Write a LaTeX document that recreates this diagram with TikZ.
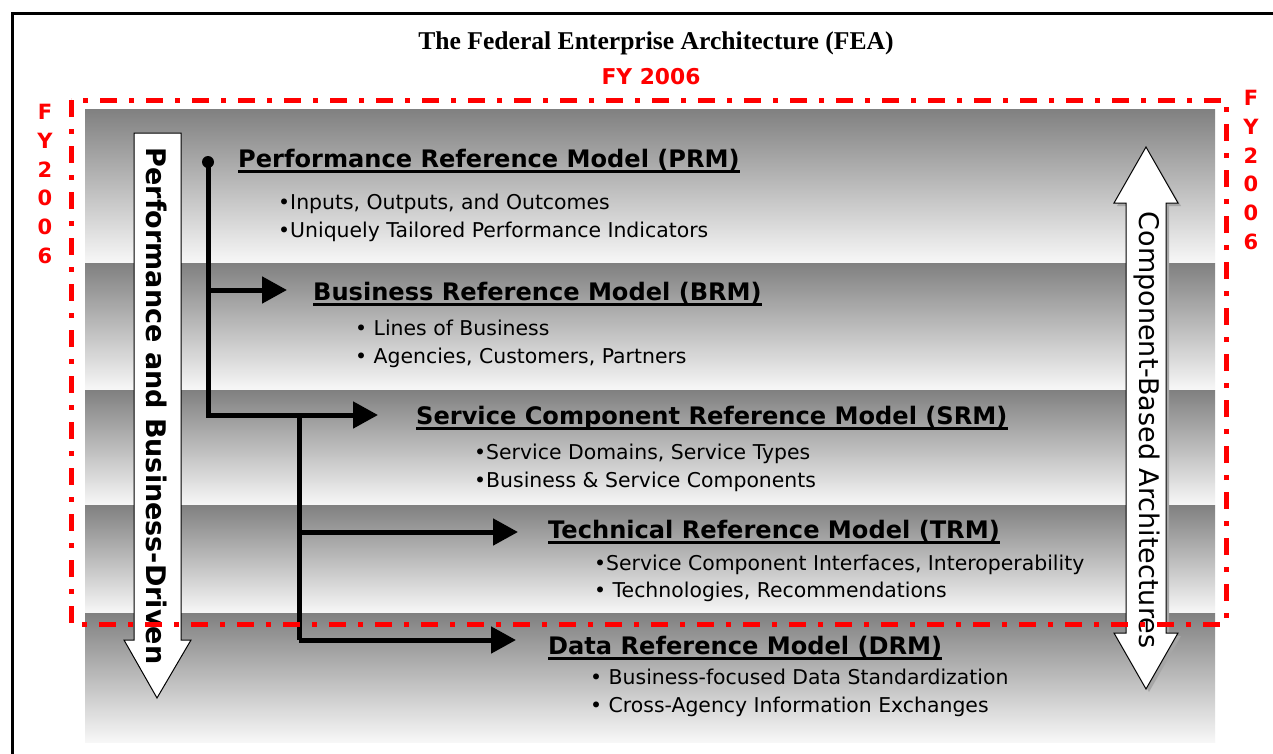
\documentclass[tikz,border=0pt]{standalone}
\usepackage{fontspec}
\setmainfont{Liberation Serif}
\newfontfamily\tah{DejaVu Sans}
\usetikzlibrary{arrows.meta}
\definecolor{bandgray}{RGB}{128,128,128}
\definecolor{fyred}{RGB}{255,0,0}
\begin{document}
\begin{tikzpicture}[x=1pt,y=-1pt,
  band/.style={top color=bandgray,bottom color=white!97!black},
  head/.style={anchor=base west,inner sep=0pt,font=\tah\bfseries\fontsize{24.1}{28}\selectfont},
  item/.style={anchor=base west,inner sep=0pt,font=\tah\fontsize{20.4}{24}\selectfont},
  uline/.style={line width=2.4pt},
  conn/.style={line width=5pt,-{Triangle[length=25pt,width=26pt]}},
  trunk/.style={line width=5pt},
  fy/.style={text=fyred,inner sep=0pt,font=\tah\bfseries\fontsize{21}{28.7}\selectfont,align=center},
  reddash/.style={draw=fyred,line width=5pt,dash pattern=on 17pt off 12pt on 5pt off 12pt}
]
\useasboundingbox (0,0) rectangle (1273,753);
\fill[white] (0,0) rectangle (1273,753);
% outer frame
\draw[line width=3pt] (1290,13) -- (12,13) -- (12,770);
% title
\node[inner sep=0pt,anchor=base,font=\bfseries\fontsize{25.6}{30}\selectfont] (title) at (656,49) {The Federal Enterprise Architecture (FEA)};
% bands
\shade[band] (85,109) rectangle (1215,263);
\shade[band] (85,263) rectangle (1215,390);
\shade[band] (85,390) rectangle (1215,505);
\shade[band] (85,505) rectangle (1215,613);
\shade[band] (85,613) rectangle (1215,742);
% left arrow
\draw[fill=white,line width=1pt] (134,133) -- (181,133) -- (181,640) -- (191,640) -- (157,698) -- (124,640) -- (134,640) -- cycle;
\node[rotate=-90,inner sep=0pt,font=\tah\bfseries\fontsize{27}{30}\selectfont] (pbd) at (157,406) {Performance and Business-Driven};
% right double arrow
\fill[gray!70,shift={(3,3)}] (1146,147) -- (1178,203) -- (1166,203) -- (1166,633) -- (1178,633) -- (1146,689) -- (1114,633) -- (1126,633) -- (1126,203) -- (1114,203) -- cycle;
\draw[fill=white,line width=1pt] (1146,147) -- (1178,203) -- (1166,203) -- (1166,633) -- (1178,633) -- (1146,689) -- (1114,633) -- (1126,633) -- (1126,203) -- (1114,203) -- cycle;
\node[rotate=-90,inner sep=0pt,font=\tah\fontsize{27}{30}\selectfont] (cba) at (1147,430) {Component-Based Architectures};
% headings and items
\node[head] (prm) at (238,167) {Performance Reference Model (PRM)};
\node[item] (prm1) at (278,209) {•Inputs, Outputs, and Outcomes};
\node[item] (prm2) at (278,237) {•Uniquely Tailored Performance Indicators};
\node[head] (brm) at (313,300) {Business Reference Model (BRM)};
\node[item] (brm1) at (355,335) {• Lines of Business};
\node[item] (brm2) at (355,363) {• Agencies, Customers, Partners};
\node[head] (srm) at (416,424) {Service Component Reference Model (SRM)};
\node[item] (srm1) at (474,459) {•Service Domains, Service Types};
\node[item] (srm2) at (474,487) {•Business \& Service Components};
\node[head] (trm) at (548,538) {Technical Reference Model (TRM)};
\node[item] (trm1) at (594,570) {•Service Component Interfaces, Interoperability};
\node[item] (trm2) at (594,597) {• Technologies, Recommendations};
\node[head] (drm) at (548,654) {Data Reference Model (DRM)};
\node[item] (drm1) at (590,684) {• Business-focused Data Standardization};
\node[item] (drm2) at (590,712) {• Cross-Agency Information Exchanges};
\foreach \h in {prm,brm,srm,trm,drm}{
  \draw[uline] ([yshift=-4.5pt]\h.base west) -- ([yshift=-4.5pt]\h.base east);
}
% connectors
\node[circle,fill=black,inner sep=0pt,minimum size=12pt] (dot) at (208,162) {};
\coordinate (j1) at (208,290);
\coordinate (j2) at (208,415);
\coordinate (j3) at (299,415);
\coordinate (j4) at (299,532);
\coordinate (j5) at (299,640);
\coordinate (t1) at (287,290);
\coordinate (t2) at (378,415);
\coordinate (t3) at (518,532);
\coordinate (t4) at (516,640);
\draw[trunk,line join=miter] (dot.center) -- (j2) -- (j3);
\draw[trunk,line join=miter] (j3) -- (j5);
\draw[conn] (j1) -- (t1);
\draw[conn] (j3) -- (t2);
\draw[conn] (j4) -- (t3);
\draw[conn] (j5) -- (t4);
% red dash-dot frame
\draw[reddash] (71,100) rectangle (1226,624);
\node[fy,font=\tah\bfseries\fontsize{21.8}{25}\selectfont] (fytop) at (651,77) {FY 2006};
\node[fy] (fyl) at (45,184) {F\\Y\\2\\0\\0\\6};
\node[fy] (fyr) at (1251,170) {F\\Y\\2\\0\\0\\6};
\end{tikzpicture}
\end{document}
